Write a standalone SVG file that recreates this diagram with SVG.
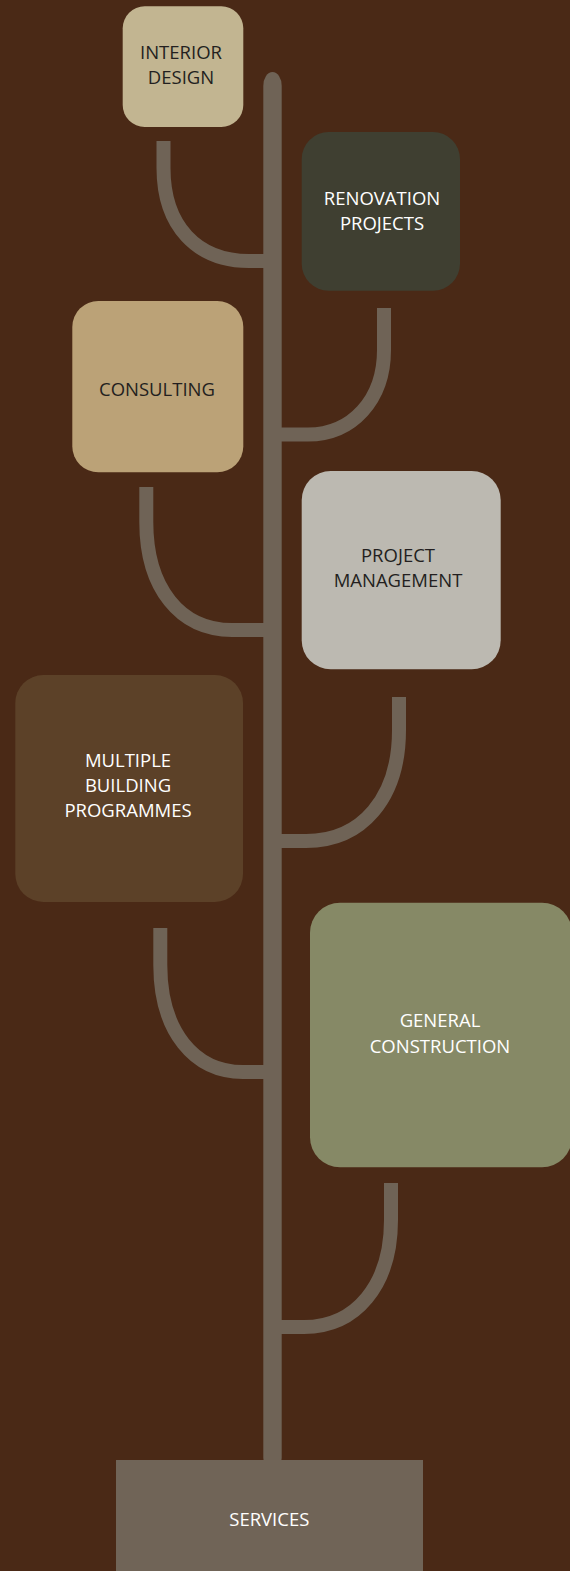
<svg xmlns="http://www.w3.org/2000/svg" width="570" height="1571" viewBox="0 0 570 1571">
<style>
.br{fill:none;stroke:#6f6356;stroke-width:14;stroke-linecap:butt}
.t{font-family:"Open Sans","Noto Sans",sans-serif;font-size:18.5px;text-anchor:middle}
.dk{fill:#231f20}
.lt{fill:#ffffff}
</style>
<rect x="0" y="0" width="570" height="1571" fill="#4a2916"/>
<g id="connectors">
<rect x="263.3" y="72" width="18.4" height="1400" rx="9.2" ry="14" fill="#6f6356"/>
<path class="br" d="M163.5,141 V168 C163.5,226 197,261 249,261 H264"/>
<path class="br" d="M384,308 V350 C384,400 352,434.5 308,434.5 H281"/>
<path class="br" d="M146.3,487 V522 C146.3,588 180,630 232,630 H264"/>
<path class="br" d="M399,697 V730 C399,798 362,841 306,841 H281"/>
<path class="br" d="M160.3,928 V965 C160.3,1031 194,1072 243,1072 H264"/>
<path class="br" d="M391,1183 V1220 C391,1285 356,1327 304,1327 H281"/>
</g>
<g id="interior-design">
<rect x="122.7" y="6.3" width="120.6" height="120.7" rx="22" fill="#c2b591"/>
<text class="t dk" x="181" y="59">INTERIOR</text>
<text class="t dk" x="181" y="83.5">DESIGN</text>
</g>
<g id="renovation-projects">
<rect x="301.7" y="132" width="158.3" height="158.7" rx="27" fill="#3f3f31"/>
<text class="t lt" x="382" y="205">RENOVATION</text>
<text class="t lt" x="382" y="230">PROJECTS</text>
</g>
<g id="consulting">
<rect x="72.3" y="301" width="171" height="171.3" rx="26" fill="#bba277"/>
<text class="t dk" x="157" y="396">CONSULTING</text>
</g>
<g id="project-management">
<rect x="301.7" y="471" width="199" height="198.3" rx="29" fill="#bcb9b1"/>
<text class="t dk" x="398" y="561.7">PROJECT</text>
<text class="t dk" x="398" y="586.7">MANAGEMENT</text>
</g>
<g id="multiple-building-programmes">
<rect x="15.3" y="675" width="227.7" height="227" rx="28" fill="#5c4128"/>
<text class="t lt" x="128" y="766.7">MULTIPLE</text>
<text class="t lt" x="128" y="791.7">BUILDING</text>
<text class="t lt" x="128" y="816.7">PROGRAMMES</text>
</g>
<g id="general-construction">
<rect x="310" y="902.7" width="262" height="264.6" rx="30" fill="#868966"/>
<text class="t lt" x="440" y="1026.7">GENERAL</text>
<text class="t lt" x="440" y="1052.7">CONSTRUCTION</text>
</g>
<g id="services">
<rect x="116" y="1460" width="307" height="111" fill="#706457"/>
<text class="t lt" x="269.3" y="1526">SERVICES</text>
</g>
</svg>
